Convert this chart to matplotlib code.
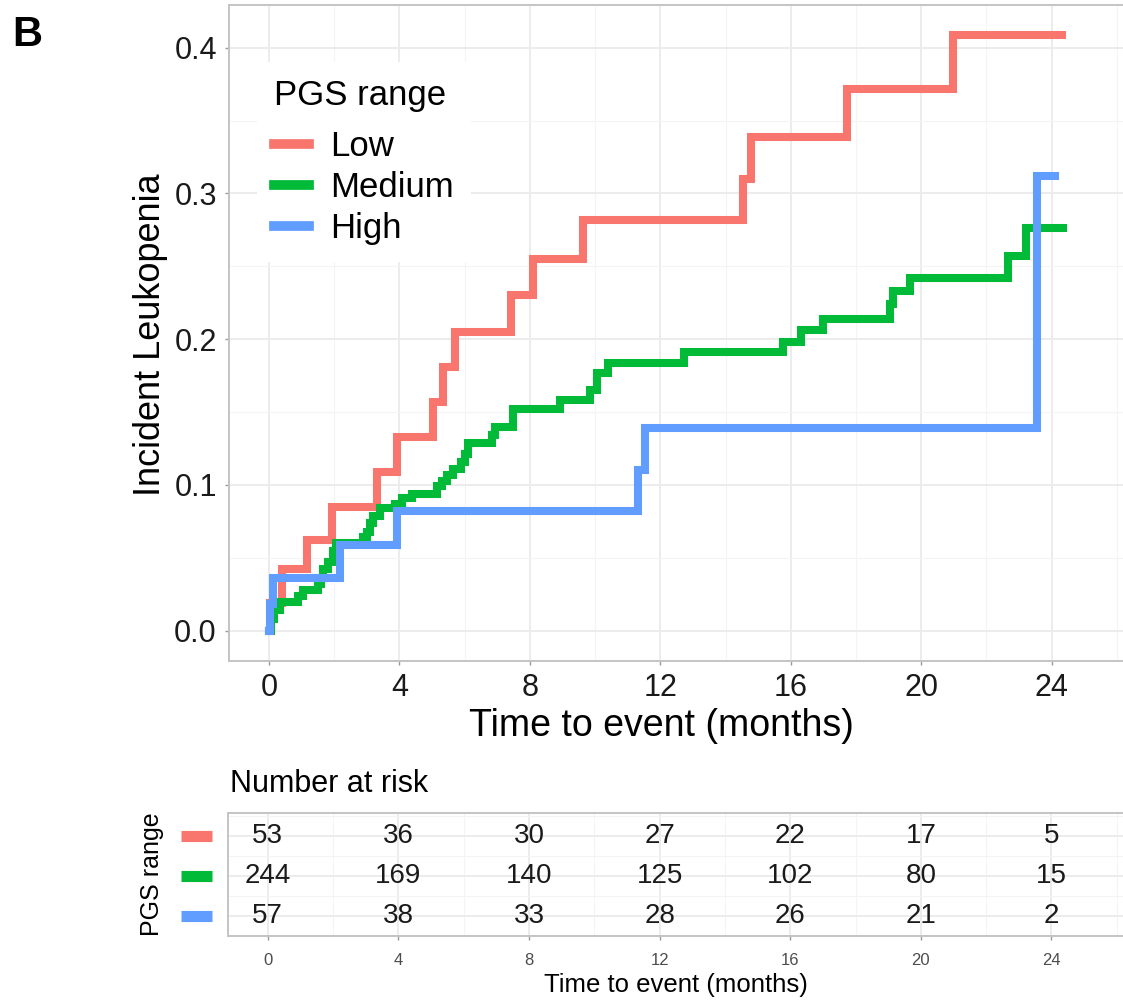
import matplotlib
matplotlib.use("Agg")
import matplotlib.pyplot as plt
import matplotlib.transforms as mtransforms
from matplotlib.ticker import MultipleLocator

plt.rcParams['font.family'] = ['Liberation Sans', 'DejaVu Sans']

# cumulative incidence step data
low_t = [0, 0.02, 0.39, 1.16, 1.92, 3.30, 3.92, 5.04, 5.35, 5.70, 7.42, 8.10, 9.64,
         14.54, 14.77, 17.72, 20.98, 24.31]
low_y = [0, 0.019, 0.042, 0.062, 0.085, 0.109, 0.133, 0.157, 0.181, 0.205, 0.230, 0.255,
         0.282, 0.310, 0.339, 0.372, 0.409, 0.409]

med_t = [0, 0.05, 0.15, 0.34, 0.9, 1.05, 1.51, 1.6, 1.67, 1.82, 1.97, 2.07, 2.89, 3.0,
         3.1, 3.2, 3.4, 3.86, 4.07, 4.38, 5.14, 5.3, 5.45, 5.65, 5.9, 6.0, 6.11, 6.85,
         6.93, 7.49, 8.92, 9.84, 10.05, 10.4, 12.72, 15.77, 16.33, 17.0, 19.04, 19.15,
         19.66, 22.67, 23.23, 24.36]
med_y = [0, 0.008, 0.014, 0.020, 0.024, 0.028, 0.032, 0.036, 0.042, 0.047, 0.055, 0.060,
         0.064, 0.068, 0.074, 0.079, 0.084, 0.087, 0.091, 0.094, 0.099, 0.103, 0.107,
         0.111, 0.116, 0.121, 0.129, 0.134, 0.140, 0.152, 0.158, 0.165, 0.177, 0.184,
         0.191, 0.198, 0.206, 0.214, 0.224, 0.233, 0.242, 0.257, 0.276, 0.276]

high_t = [0, 0.03, 0.12, 2.18, 3.92, 11.33, 11.53, 23.54, 24.1]
high_y = [0, 0.018, 0.036, 0.059, 0.082, 0.110, 0.139, 0.312, 0.312]

groups = ['Low', 'Medium', 'High']
colors = ['#F8766D', '#00BA38', '#619CFF']

# number at risk table
risk_times = [0, 4, 8, 12, 16, 20, 24]
risk_low = [53, 36, 30, 27, 22, 17, 5]
risk_med = [244, 169, 140, 125, 102, 80, 15]
risk_high = [57, 38, 33, 28, 26, 21, 2]

xmin, xmax = -1.217, 26.19
fig = plt.figure(figsize=(11.23, 10), dpi=100)

def style(ax, ymaj, ymin_loc):
    ax.set_xlim(xmin, xmax)
    ax.xaxis.set_major_locator(MultipleLocator(4))
    ax.xaxis.set_minor_locator(MultipleLocator(2))
    ax.yaxis.set_major_locator(MultipleLocator(ymaj))
    ax.yaxis.set_minor_locator(MultipleLocator(ymin_loc))
    ax.grid(which='major', color='#EBEBEB', lw=1.3)
    ax.grid(which='minor', color='#F4F4F4', lw=0.8)
    ax.set_axisbelow(True)
    for s in ['left', 'bottom', 'top']:
        ax.spines[s].set_color('#C4C4C4')
        ax.spines[s].set_linewidth(1.4)
    ax.spines['right'].set_visible(False)
    ax.tick_params(which='major', length=3, width=1, color='#999999')
    ax.tick_params(which='minor', length=0)

# main panel
ax = fig.add_axes([229.3 / 1123, 1 - 660.7 / 1000, 1 - 229.3 / 1123, 655.7 / 1000])
style(ax, 0.1, 0.05)
ax.set_ylim(-0.0206, 0.4293)
for t, y, c, g in zip([low_t, med_t, high_t], [low_y, med_y, high_y], colors, groups):
    ax.step(t, y, where='post', color=c, lw=5.8, label=g, solid_joinstyle='miter')
ax.set_yticks([0, 0.1, 0.2, 0.3, 0.4])
ax.set_yticklabels(['0.0', '0.1', '0.2', '0.3', '0.4'])
ax.tick_params(axis='both', labelsize=22, labelcolor='#1A1A1A', pad=6)
ax.set_xlabel('Time to event (months)', fontsize=27)
ax.set_ylabel('Incident Leukopenia', fontsize=26)
ax.xaxis.set_label_coords(0.484, -0.072)
ax.yaxis.set_label_coords(-0.069, 0.497)

leg = ax.legend(loc='upper left', bbox_to_anchor=(0.031, 0.913), title='PGS range',
                fontsize=25, title_fontsize=25, frameon=True, fancybox=False,
                edgecolor='none', facecolor='white', framealpha=1, borderaxespad=0,
                borderpad=0.5, labelspacing=0.22, handlelength=1.0, handletextpad=0.6,
                alignment='left')
leg._legend_box.sep = 13
for h in leg.get_lines():
    h.set_linewidth(7)

# risk table
axt = fig.add_axes([228 / 1123, 0.064, 1 - 228 / 1123, 0.123])
style(axt, 1, 0.5)
axt.set_ylim(0.5, 3.575)
for row, vals in zip([3, 2, 1], [risk_low, risk_med, risk_high]):
    for t, v in zip(risk_times, vals):
        axt.text(t, row, str(v), ha='center', va='center', fontsize=20, color='#1A1A1A')
axt.set_yticks([1, 2, 3])
axt.set_yticklabels([])
axt.tick_params(axis='y', length=0)
axt.tick_params(axis='x', labelsize=12, labelcolor='#4D4D4D', pad=9)
axt.set_xlabel('Time to event (months)', fontsize=18.5, labelpad=4)
axt.set_ylabel('PGS range', fontsize=18)
axt.yaxis.set_label_coords(-0.072, 0.5)
trans = mtransforms.blended_transform_factory(axt.transAxes, axt.transData)
for row, c in zip([3, 2, 1], colors):
    axt.plot([-0.053, -0.018], [row, row], color=c, lw=8, transform=trans,
             clip_on=False, solid_capstyle='butt')

fig.text(230 / 1123, 0.208, 'Number at risk', fontsize=22, va='baseline', ha='left')
fig.text(12 / 1123, 0.985, 'B', fontsize=30, fontweight='bold', va='top', ha='left')

fig.savefig('out.png', dpi=100)
